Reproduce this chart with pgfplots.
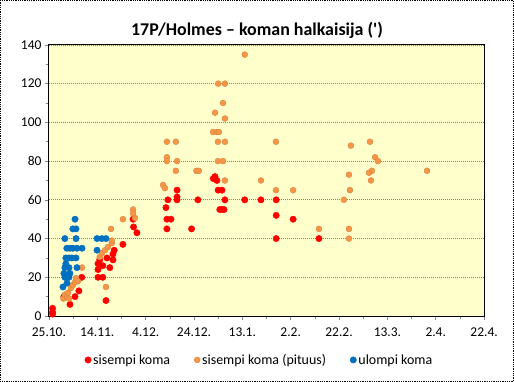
\documentclass[border=0pt]{standalone}
\usepackage{fontspec}
\setmainfont{Carlito}
\usepackage{pgfplots}
\pgfplotsset{compat=1.18}
\definecolor{cred}{RGB}{255,0,0}
\definecolor{corange}{RGB}{247,150,70}
\definecolor{cblue}{RGB}{0,112,192}
\definecolor{bgy}{RGB}{255,255,204}
\definecolor{gridc}{RGB}{134,134,134}
\begin{document}
\begin{tikzpicture}[x=1bp,y=1bp]
\draw[densely dotted, line width=0.8bp] (0.5,0.5) rectangle (513.5,381.5);
\node[font=\bfseries\fontsize{18}{21}\selectfont] at (257,352) {17P/Holmes -- koman halkaisija (\textquotesingle)};
\begin{axis}[
  at={(49bp,66bp)}, anchor=south west, scale only axis,
  width=435bp, height=271bp,
  xmin=0, xmax=180, ymin=0, ymax=140,
  xtick={0,20,...,180},
  xticklabels={25.10.,14.11.,4.12.,24.12.,13.1.,2.2.,22.2.,13.3.,2.4.,22.4.},
  ytick={0,20,...,140},
  minor x tick num=1, minor y tick num=1,
  tick pos=left, tick align=outside,
  major tick length=4bp, minor tick length=3bp,
  tick style={gridc, line width=0.6bp},
  ymajorgrids,
  major grid style={gridc, line width=0.7bp, dash pattern=on 1bp off 1bp},
  axis line style={black, line width=1bp},
  axis background/.style={fill=bgy},
  tick label style={font=\fontsize{13.5}{15}\selectfont},
  /pgf/number format/assume math mode=true,
  xticklabel style={yshift=-4bp},
  legend style={at={(0.484,-0.162)}, anchor=center, draw=none, fill=none,
    font=\fontsize{14}{16}\selectfont, legend columns=3,
    /tikz/every even column/.append style={column sep=22bp}},
  legend cell align=left,
]
\addplot[only marks, mark=*, mark size=3.2bp, mark options={fill=cred, draw=cred}] coordinates {
(1.5,4)(1.5,2)(1.5,1)(6.2,10)(8.7,6)(10.8,10)(12.4,13)(13.6,20)
(20.3,27)(20.3,24)(20.3,20)(21,29)(22.3,20)(22.3,26)(23.6,8)(24,30)(25.2,25)(26.5,29)(26.5,32)(27,34)(30.6,37)
(34.8,50)(35,46)(36.4,43)
(48.4,56)(49.2,60)(48.8,50)(50.5,50)(48.8,45)(53,65)(53,61.5)(53,60)(59,45)(61.6,60)
(68,71)(68.7,72)(69.5,70)(70,65)(71.6,65)(72.8,60)(71.6,55)(72.4,55)(70.7,55)(81,60)(87.7,60)(94,60)(94,52)(94,40)(101,50)(111.7,40)
};
\addlegendentry{sisempi koma}
\addplot[only marks, mark=*, mark size=3bp, mark options={fill=corange, draw=corange!85!black, line width=0.3bp}] coordinates {
(6,9)(6.6,11)(7.5,10)(7.9,12)(8.3,9)(9.1,14.5)(9.9,16)(10.8,17.5)(11.2,19.6)(12,18)(13.7,25)
(21,30.5)(21.9,32.5)(23.2,34)(24.4,35.6)(26,37.7)(26,39)(23.6,15)(25.7,45)(30.6,50)(34.8,55)(34.8,53)(35.6,50.6)
(48.8,90)(52.5,90)(48.8,82)(48.8,80)(53,80)(52.5,75)(61,75)(47.2,67.7)(48,66)
(81,135)(70,120)(72.8,120)(72,110)(68.7,105)(72.8,102)(67.9,95)(69.5,95)(70.3,95)(69.9,90)(72.8,90)(93.9,90)(69.9,80)(72,80)(62,75)(72.8,70)(87.7,70)(93.9,65)(101,65)
(124.9,88)(132.8,90)(134.9,82)(136.1,80)(133.6,75)(132.4,74)(124.1,73)(133.2,70)(124.5,65)(122,60)(124.1,45)(124.1,40)(156.4,75)(111.7,45)
};
\addlegendentry{sisempi koma (pituus)}
\addplot[only marks, mark=*, mark size=3.2bp, mark options={fill=cblue, draw=cblue}] coordinates {
(10.8,50)(9.9,45)(11.2,45)(6.6,40)(11.2,40)(7.4,35)(8.7,35)(9.9,35)(11.6,35)(13.7,35)
(7,30)(8.3,30)(9.5,30)(11.2,30)(6.6,25)(8.3,25)(11.6,25)(6.6,20)(8.3,20)(5.8,15)(7.5,17)
(19.9,40)(21.9,40)(23.6,40)(19.9,34)(6.2,22)(7,27)(8.7,22)
};
\addlegendentry{ulompi koma}
\end{axis}
\end{tikzpicture}
\end{document}
